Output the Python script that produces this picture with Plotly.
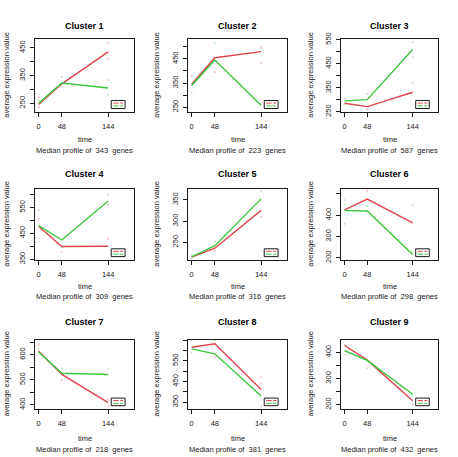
import plotly.graph_objects as go

times = [0, 48, 144]
time_ticks = ["0", "48", "144"]
cluster_names = ["Cluster 1", "Cluster 2", "Cluster 3", "Cluster 4", "Cluster 5",
                 "Cluster 6", "Cluster 7", "Cluster 8", "Cluster 9"]
gene_counts = [343, 223, 587, 309, 316, 298, 218, 381, 432]

red_median = [
    [246, 320, 435], [345, 455, 480], [285, 271, 331],
    [476, 399, 400], [215, 236, 325], [425, 476, 364],
    [613, 521, 409], [616, 633, 411], [426, 370, 215],
]
green_median = [
    [250, 323, 305], [340, 445, 258], [295, 300, 509],
    [480, 424, 575], [216, 242, 352], [422, 420, 216],
    [610, 526, 521], [608, 584, 380], [406, 369, 240],
]

# individual (faint) points: time, value
red_pts_t = [
    [0, 0, 48, 144, 144], [0, 48, 144, 144], [0, 48, 144],
    [0, 48, 144], [0, 48, 144], [0, 0, 48, 144],
    [0, 48, 144, 144], [0, 48, 144, 144], [0, 48, 144],
]
red_pts_v = [
    [271, 236, 345, 466, 410], [378, 395, 500, 434], [305, 260, 371],
    [505, 380, 430], [212, 230, 310], [470, 360, 515, 450],
    [640, 500, 420, 395], [650, 570, 470, 440], [430, 340, 200],
]
green_pts_t = [
    [0, 48, 144, 144], [0, 48, 144], [0, 48, 144, 144],
    [0, 48, 144, 144], [0, 48, 144], [0, 48, 144],
    [0, 48, 144], [0, 48, 144], [0, 48, 144],
]
green_pts_v = [
    [262, 310, 334, 281], [309, 515, 490], [280, 323, 540, 477],
    [539, 395, 600, 560], [220, 252, 370], [450, 445, 230],
    [620, 545, 545], [590, 650, 330], [390, 370, 235],
]

y_ranges = [[218, 481], [229, 532], [248, 552], [346, 621], [208, 375],
            [189, 523], [383, 658], [316, 651], [183, 447]]
y_tickvals = [
    [250, 300, 350, 400, 450], [250, 300, 350, 400, 450, 500],
    [250, 300, 350, 400, 450, 500, 550], [350, 400, 450, 500, 550, 600],
    [250, 300, 350], [200, 300, 400, 500],
    [400, 450, 500, 550, 600, 650], [350, 400, 450, 500, 550, 600, 650],
    [200, 250, 300, 350, 400],
]
y_ticktext = [
    ["250", "", "350", "", "450"], ["250", "", "350", "", "450", ""],
    ["250", "", "350", "", "450", "", "550"], ["350", "", "450", "", "550", ""],
    ["250", "300", "350"], ["200", "300", "400", ""],
    ["400", "", "500", "", "600", ""], ["350", "", "450", "", "550", "", ""],
    ["200", "", "300", "", "400"],
]
x_range = [-7.6, 197.6]

RED = "#E0444C"
GREEN = "#3DC63D"
INK = "#1a1a1a"
W, H = 458, 457
col_px = [(35, 134), (188, 287), (341, 438)]
row_px = [(33, 108), (187, 260), (342, 413)]
title_y = [19, 171, 323]
time_y = [136, 287, 443]
median_y = [147, 297, 454]
ylab_x = [7, 157, 311]
FONT = "Arial, Liberation Sans, sans-serif"

fig = go.Figure()
annotations = []
shapes = []
for i in range(9):
    r, c = divmod(i, 3)
    n = "" if i == 0 else str(i + 1)
    xa, ya = "x" + n, "y" + n
    x0, x1 = col_px[c]
    y0, y1 = row_px[r]
    fig.add_trace(go.Scatter(x=red_pts_t[i], y=red_pts_v[i], mode="markers",
                             marker=dict(color=RED, size=2, opacity=0.35),
                             xaxis=xa, yaxis=ya, showlegend=False, hoverinfo="skip"))
    fig.add_trace(go.Scatter(x=green_pts_t[i], y=green_pts_v[i], mode="markers",
                             marker=dict(color=GREEN, size=2, opacity=0.35),
                             xaxis=xa, yaxis=ya, showlegend=False, hoverinfo="skip"))
    fig.add_trace(go.Scatter(x=times, y=red_median[i], mode="lines",
                             line=dict(color=RED, width=1.4),
                             xaxis=xa, yaxis=ya, showlegend=False))
    fig.add_trace(go.Scatter(x=times, y=green_median[i], mode="lines",
                             line=dict(color=GREEN, width=1.4),
                             xaxis=xa, yaxis=ya, showlegend=False))
    axis_common = dict(showline=True, mirror=True, linecolor=INK, linewidth=1,
                       ticks="outside", ticklen=4, tickcolor=INK, showgrid=False,
                       zeroline=False, tickfont=dict(family=FONT, size=7.5, color=INK))
    fig.layout["xaxis" + n] = dict(domain=[x0 / W, x1 / W], range=x_range,
                                   tickvals=times, ticktext=time_ticks,
                                   anchor=ya, ticklabelstandoff=3, **axis_common)
    fig.layout["yaxis" + n] = dict(domain=[1 - y1 / H, 1 - y0 / H], range=y_ranges[i],
                                   tickvals=y_tickvals[i], ticktext=y_ticktext[i],
                                   tickangle=-90, anchor=xa, ticklabelstandoff=2,
                                   **axis_common)
    cx = (x0 + x1) / 2
    annotations.append(dict(text="<b>" + cluster_names[i] + "</b>", x=cx / W, y=1 - title_y[r] / H,
                            xref="paper", yref="paper", showarrow=False,
                            font=dict(family=FONT, size=9, color="black"),
                            xanchor="center", yanchor="middle"))
    annotations.append(dict(text="time", x=cx / W, y=1 - time_y[r] / H,
                            xref="paper", yref="paper", showarrow=False,
                            font=dict(family=FONT, size=7.5, color=INK),
                            xanchor="center", yanchor="middle"))
    annotations.append(dict(text="Median profile of  %d  genes" % gene_counts[i],
                            x=cx / W, y=1 - median_y[r] / H,
                            xref="paper", yref="paper", showarrow=False,
                            font=dict(family=FONT, size=7.5, color=INK),
                            xanchor="center", yanchor="middle"))
    annotations.append(dict(text="average expression value", x=ylab_x[c] / W,
                            y=1 - ((y0 + y1) / 2) / H, xref="paper", yref="paper",
                            showarrow=False, textangle=-90,
                            font=dict(family=FONT, size=7.5, color=INK),
                            xanchor="center", yanchor="middle"))
    # small legend box
    xd, yd = xa + " domain", ya + " domain"
    shapes.append(dict(type="rect", xref=xd, yref=yd, x0=0.77, x1=0.91, y0=0.05, y1=0.16,
                       line=dict(color=INK, width=1), fillcolor="white"))
    shapes.append(dict(type="line", xref=xd, yref=yd, x0=0.79, x1=0.845, y0=0.125, y1=0.125,
                       line=dict(color=RED, width=1)))
    shapes.append(dict(type="line", xref=xd, yref=yd, x0=0.86, x1=0.89, y0=0.125, y1=0.125,
                       line=dict(color=RED, width=1, dash="dot")))
    shapes.append(dict(type="line", xref=xd, yref=yd, x0=0.79, x1=0.845, y0=0.085, y1=0.085,
                       line=dict(color=GREEN, width=1)))
    shapes.append(dict(type="line", xref=xd, yref=yd, x0=0.86, x1=0.89, y0=0.085, y1=0.085,
                       line=dict(color=GREEN, width=1, dash="dot")))

fig.update_layout(width=W, height=H, autosize=False,
                  margin=dict(l=0, r=0, t=0, b=0),
                  paper_bgcolor="white", plot_bgcolor="white",
                  annotations=annotations, shapes=shapes, showlegend=False)
fig.write_html("out.html", config={"displayModeBar": False},
               post_script="document.body.style.margin='0';document.body.style.overflow='hidden';")
